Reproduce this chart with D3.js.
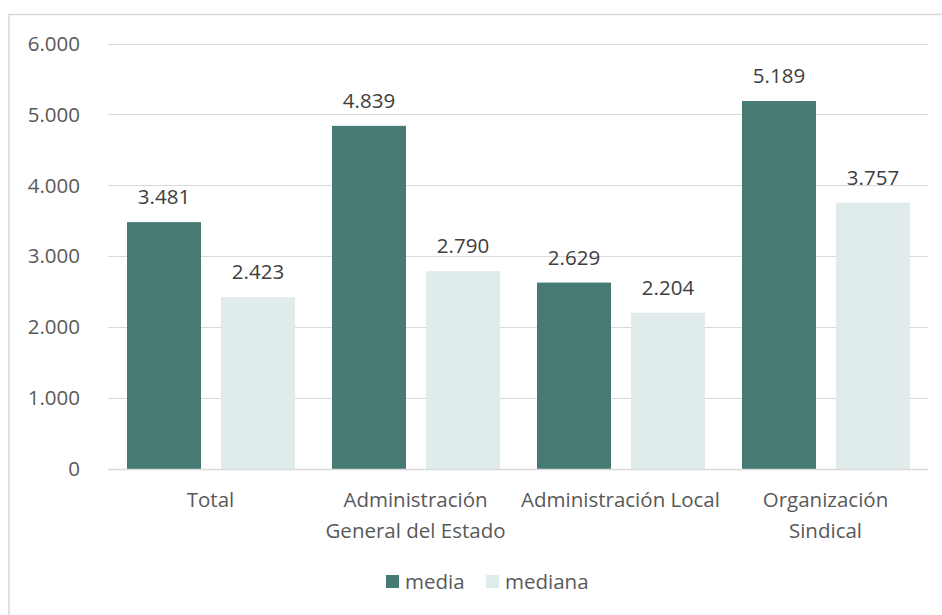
<!DOCTYPE html>
<html>
<head>
<meta charset="utf-8">
<script src="https://cdn.jsdelivr.net/npm/d3@7"></script>
<style>
  html, body { margin: 0; padding: 0; background: #fff; }
  svg { display: block; font-family: "Open Sans", "Noto Sans", sans-serif; }
</style>
</head>
<body>
<svg id="chart" width="942" height="615"></svg>
<script>
// Salario por ámbito: media y mediana
const categories = [
  ["Total"],
  ["Administración", "General del Estado"],
  ["Administración Local"],
  ["Organización", "Sindical"]
];
const seriesNames = ["media", "mediana"];
const media = [3481, 4839, 2629, 5189];
const mediana = [2423, 2790, 2204, 3757];
const yTicks = [0, 1000, 2000, 3000, 4000, 5000, 6000];

const colors = { media: "#487a74", mediana: "#e0ecec" };
const textColor = "#595959";
const fontSize = 20.5;
const fmt = v => d3.format(",")(v).replace(/,/g, ".");

const svg = d3.select("#chart");
const x0 = 108, x1 = 928, yTop = 43.5, yBottom = 469;

// frame (top and left edges visible within the canvas)
svg.append("rect")
  .attr("x", 9).attr("y", 14.5)
  .attr("width", 1200).attr("height", 1200)
  .attr("fill", "#fff").attr("stroke", "#d9d9d9").attr("stroke-width", 1.5);

const y = d3.scaleLinear().domain([0, 6000]).range([yBottom, yTop]);
const xBand = d3.scaleBand().domain(d3.range(categories.length)).range([x0, x1]);
const xInner = d3.scaleBand().domain(seriesNames).range([19, 187]).paddingInner(20 / 94).paddingOuter(0);

// gridlines
svg.append("g").selectAll("line").data(yTicks.filter(d => d > 0)).join("line")
  .attr("x1", x0).attr("x2", x1)
  .attr("y1", d => Math.round(y(d)) + 0.5).attr("y2", d => Math.round(y(d)) + 0.5)
  .attr("stroke", "#d9d9d9").attr("stroke-width", 1);

// y tick labels
svg.append("g").selectAll("text").data(yTicks).join("text")
  .attr("x", 80).attr("y", d => y(d))
  .attr("dy", "0.35em")
  .attr("text-anchor", "end")
  .attr("fill", textColor)
  .attr("font-size", fontSize)
  .text(d => fmt(d));

// bars
const rows = categories.map((c, i) => ({ i, values: [
  { key: "media", value: media[i] },
  { key: "mediana", value: mediana[i] }
]}));

const groups = svg.append("g").selectAll("g").data(rows).join("g")
  .attr("transform", d => `translate(${xBand(d.i)},0)`);

groups.selectAll("rect").data(d => d.values).join("rect")
  .attr("x", d => xInner(d.key))
  .attr("width", xInner.bandwidth())
  .attr("y", d => y(d.value))
  .attr("height", d => y(0) - y(d.value))
  .attr("fill", d => colors[d.key]);

groups.selectAll("text.val").data(d => d.values).join("text")
  .attr("class", "val")
  .attr("x", d => xInner(d.key) + xInner.bandwidth() / 2)
  .attr("y", d => y(d.value) - 18)
  .attr("text-anchor", "middle")
  .attr("fill", "#404040")
  .attr("font-size", fontSize)
  .text(d => fmt(d.value));

// baseline
svg.append("line")
  .attr("x1", x0).attr("x2", x1)
  .attr("y1", yBottom + 0.5).attr("y2", yBottom + 0.5)
  .attr("stroke", "#d9d9d9").attr("stroke-width", 1.5);

// category labels
const catG = svg.append("g").selectAll("text").data(categories).join("text")
  .attr("text-anchor", "middle")
  .attr("fill", textColor)
  .attr("font-size", fontSize);
catG.each(function(lines, i) {
  const t = d3.select(this);
  lines.forEach((ln, k) => {
    t.append("tspan")
      .attr("x", xBand(i) + xBand.bandwidth() / 2)
      .attr("y", 507 + k * 31)
      .text(ln);
  });
});

// legend
const legend = svg.append("g").attr("transform", "translate(386,575)");
const legendItems = [
  { key: "media", x: 0 },
  { key: "mediana", x: 100 }
];
legend.selectAll("rect").data(legendItems).join("rect")
  .attr("x", d => d.x).attr("y", 0)
  .attr("width", 13).attr("height", 13)
  .attr("fill", d => colors[d.key]);
legend.selectAll("text").data(legendItems).join("text")
  .attr("x", d => d.x + 19).attr("y", 7)
  .attr("dy", "0.35em")
  .attr("fill", textColor)
  .attr("font-size", fontSize)
  .text(d => d.key);
</script>
</body>
</html>
